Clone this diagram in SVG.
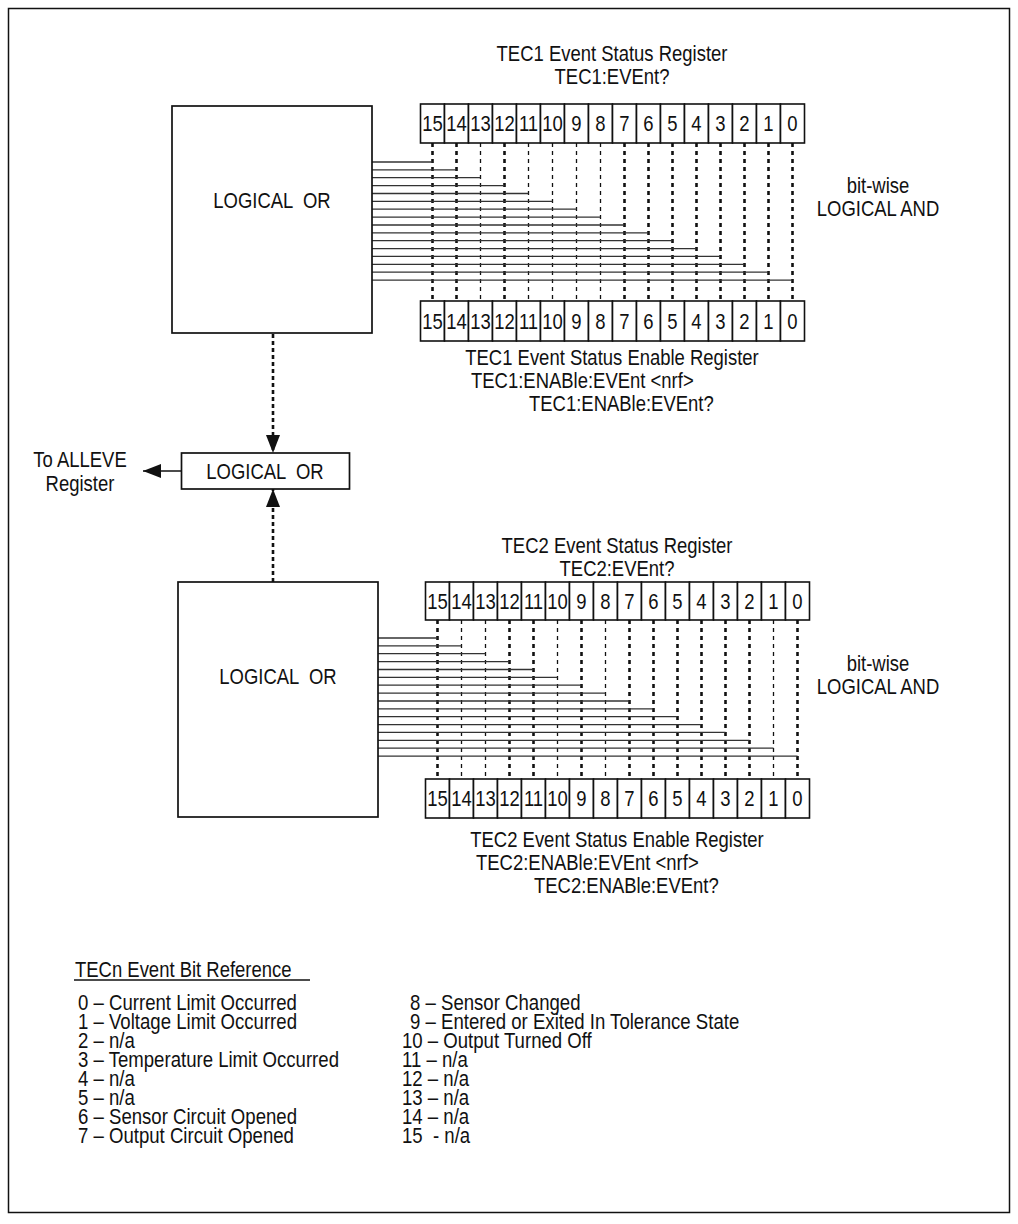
<svg xmlns="http://www.w3.org/2000/svg" width="1018" height="1224" viewBox="0 0 1018 1224">
<style>
text { font-family: "Liberation Sans", Arial, sans-serif; font-size: 22px; fill: #111; }
.c { text-anchor: middle; }
.pre { white-space: pre; }
.box { fill: #fff; stroke: #111; stroke-width: 1.7; }
.cell { fill: #fff; stroke: #111; stroke-width: 1.6; }
.dk { stroke: #111; stroke-width: 2.6; stroke-dasharray: 4 4; fill: none; }
.dt { stroke: #111; stroke-width: 1.3; stroke-dasharray: 4 4; fill: none; }
.h { stroke: #333; stroke-width: 1.3; fill: none; }
.ar { stroke: #111; stroke-width: 2.6; stroke-dasharray: 4 3; fill: none; }
.sl { stroke: #111; stroke-width: 1.5; fill: none; }
</style>
<defs>
<marker id="ah2" viewBox="0 0 18 14" refX="18" refY="7" markerWidth="18" markerHeight="14" markerUnits="userSpaceOnUse" orient="auto">
<path d="M0,0 L18,7 L0,14 Z" fill="#111"/>
</marker>
</defs>
<rect x="8.5" y="8.5" width="1001" height="1204" fill="#fff" stroke="#111" stroke-width="1.5"/>

<g id="connectors">
<line class="dk" x1="432.5" y1="143" x2="432.5" y2="301"/>
<line class="dk" x1="456.5" y1="143" x2="456.5" y2="301"/>
<line class="dt" x1="480.5" y1="143" x2="480.5" y2="301"/>
<line class="dk" x1="504.5" y1="143" x2="504.5" y2="301"/>
<line class="dt" x1="528.5" y1="143" x2="528.5" y2="301"/>
<line class="dt" x1="552.5" y1="143" x2="552.5" y2="301"/>
<line class="dt" x1="576.5" y1="143" x2="576.5" y2="301"/>
<line class="dt" x1="600.5" y1="143" x2="600.5" y2="301"/>
<line class="dk" x1="624.5" y1="143" x2="624.5" y2="301"/>
<line class="dk" x1="648.5" y1="143" x2="648.5" y2="301"/>
<line class="dk" x1="672.5" y1="143" x2="672.5" y2="301"/>
<line class="dk" x1="696.5" y1="143" x2="696.5" y2="301"/>
<line class="dk" x1="720.5" y1="143" x2="720.5" y2="301"/>
<line class="dk" x1="744.5" y1="143" x2="744.5" y2="301"/>
<line class="dk" x1="768.5" y1="143" x2="768.5" y2="301"/>
<line class="dk" x1="792.5" y1="143" x2="792.5" y2="301"/>
<line class="h" x1="372" y1="162" x2="432.5" y2="162"/>
<line class="h" x1="372" y1="169.9" x2="456.5" y2="169.9"/>
<line class="h" x1="372" y1="177.7" x2="480.5" y2="177.7"/>
<line class="h" x1="372" y1="185.6" x2="504.5" y2="185.6"/>
<line class="h" x1="372" y1="193.5" x2="528.5" y2="193.5"/>
<line class="h" x1="372" y1="201.4" x2="552.5" y2="201.4"/>
<line class="h" x1="372" y1="209.2" x2="576.5" y2="209.2"/>
<line class="h" x1="372" y1="217.1" x2="600.5" y2="217.1"/>
<line class="h" x1="372" y1="225" x2="624.5" y2="225"/>
<line class="h" x1="372" y1="232.8" x2="648.5" y2="232.8"/>
<line class="h" x1="372" y1="240.7" x2="672.5" y2="240.7"/>
<line class="h" x1="372" y1="248.6" x2="696.5" y2="248.6"/>
<line class="h" x1="372" y1="256.4" x2="720.5" y2="256.4"/>
<line class="h" x1="372" y1="264.3" x2="744.5" y2="264.3"/>
<line class="h" x1="372" y1="272.2" x2="768.5" y2="272.2"/>
<line class="h" x1="372" y1="280.1" x2="792.5" y2="280.1"/>
<line class="dk" x1="437.5" y1="620" x2="437.5" y2="779"/>
<line class="dt" x1="461.5" y1="620" x2="461.5" y2="779"/>
<line class="dt" x1="485.5" y1="620" x2="485.5" y2="779"/>
<line class="dk" x1="509.5" y1="620" x2="509.5" y2="779"/>
<line class="dk" x1="533.5" y1="620" x2="533.5" y2="779"/>
<line class="dt" x1="557.5" y1="620" x2="557.5" y2="779"/>
<line class="dk" x1="581.5" y1="620" x2="581.5" y2="779"/>
<line class="dt" x1="605.5" y1="620" x2="605.5" y2="779"/>
<line class="dk" x1="629.5" y1="620" x2="629.5" y2="779"/>
<line class="dk" x1="653.5" y1="620" x2="653.5" y2="779"/>
<line class="dk" x1="677.5" y1="620" x2="677.5" y2="779"/>
<line class="dk" x1="701.5" y1="620" x2="701.5" y2="779"/>
<line class="dk" x1="725.5" y1="620" x2="725.5" y2="779"/>
<line class="dk" x1="749.5" y1="620" x2="749.5" y2="779"/>
<line class="dt" x1="773.5" y1="620" x2="773.5" y2="779"/>
<line class="dk" x1="797.5" y1="620" x2="797.5" y2="779"/>
<line class="h" x1="378" y1="638" x2="437.5" y2="638"/>
<line class="h" x1="378" y1="645.9" x2="461.5" y2="645.9"/>
<line class="h" x1="378" y1="653.7" x2="485.5" y2="653.7"/>
<line class="h" x1="378" y1="661.6" x2="509.5" y2="661.6"/>
<line class="h" x1="378" y1="669.5" x2="533.5" y2="669.5"/>
<line class="h" x1="378" y1="677.4" x2="557.5" y2="677.4"/>
<line class="h" x1="378" y1="685.2" x2="581.5" y2="685.2"/>
<line class="h" x1="378" y1="693.1" x2="605.5" y2="693.1"/>
<line class="h" x1="378" y1="701" x2="629.5" y2="701"/>
<line class="h" x1="378" y1="708.8" x2="653.5" y2="708.8"/>
<line class="h" x1="378" y1="716.7" x2="677.5" y2="716.7"/>
<line class="h" x1="378" y1="724.6" x2="701.5" y2="724.6"/>
<line class="h" x1="378" y1="732.4" x2="725.5" y2="732.4"/>
<line class="h" x1="378" y1="740.3" x2="749.5" y2="740.3"/>
<line class="h" x1="378" y1="748.2" x2="773.5" y2="748.2"/>
<line class="h" x1="378" y1="756.1" x2="797.5" y2="756.1"/>
<line class="ar" x1="273" y1="334" x2="273" y2="453" marker-end="url(#ah2)"/>
<line class="ar" x1="273" y1="582" x2="273" y2="489" marker-end="url(#ah2)"/>
<line class="sl" x1="181.5" y1="471" x2="143" y2="471" marker-end="url(#ah2)"/>
</g>

<g id="tec1-or">
<rect class="box" x="172" y="106" width="200" height="227"/>
<text class="c pre" transform="translate(272 208) scale(0.84 1)">LOGICAL  OR</text>
</g>

<g id="tec1-status">
<text class="c" transform="translate(612 61) scale(0.84 1)">TEC1 Event Status Register</text>
<text class="c" transform="translate(612 84) scale(0.84 1)">TEC1:EVEnt?</text>
<rect class="cell" x="420.5" y="104" width="24" height="39"/><text class="c" transform="translate(432.5 131) scale(0.84 1)">15</text>
<rect class="cell" x="444.5" y="104" width="24" height="39"/><text class="c" transform="translate(456.5 131) scale(0.84 1)">14</text>
<rect class="cell" x="468.5" y="104" width="24" height="39"/><text class="c" transform="translate(480.5 131) scale(0.84 1)">13</text>
<rect class="cell" x="492.5" y="104" width="24" height="39"/><text class="c" transform="translate(504.5 131) scale(0.84 1)">12</text>
<rect class="cell" x="516.5" y="104" width="24" height="39"/><text class="c" transform="translate(528.5 131) scale(0.84 1)">11</text>
<rect class="cell" x="540.5" y="104" width="24" height="39"/><text class="c" transform="translate(552.5 131) scale(0.84 1)">10</text>
<rect class="cell" x="564.5" y="104" width="24" height="39"/><text class="c" transform="translate(576.5 131) scale(0.84 1)">9</text>
<rect class="cell" x="588.5" y="104" width="24" height="39"/><text class="c" transform="translate(600.5 131) scale(0.84 1)">8</text>
<rect class="cell" x="612.5" y="104" width="24" height="39"/><text class="c" transform="translate(624.5 131) scale(0.84 1)">7</text>
<rect class="cell" x="636.5" y="104" width="24" height="39"/><text class="c" transform="translate(648.5 131) scale(0.84 1)">6</text>
<rect class="cell" x="660.5" y="104" width="24" height="39"/><text class="c" transform="translate(672.5 131) scale(0.84 1)">5</text>
<rect class="cell" x="684.5" y="104" width="24" height="39"/><text class="c" transform="translate(696.5 131) scale(0.84 1)">4</text>
<rect class="cell" x="708.5" y="104" width="24" height="39"/><text class="c" transform="translate(720.5 131) scale(0.84 1)">3</text>
<rect class="cell" x="732.5" y="104" width="24" height="39"/><text class="c" transform="translate(744.5 131) scale(0.84 1)">2</text>
<rect class="cell" x="756.5" y="104" width="24" height="39"/><text class="c" transform="translate(768.5 131) scale(0.84 1)">1</text>
<rect class="cell" x="780.5" y="104" width="24" height="39"/><text class="c" transform="translate(792.5 131) scale(0.84 1)">0</text>
</g>

<g id="tec1-and">
<text class="c" transform="translate(878 193) scale(0.84 1)">bit-wise</text>
<text class="c" transform="translate(878 216) scale(0.84 1)">LOGICAL AND</text>
</g>

<g id="tec1-enable">
<rect class="cell" x="420.5" y="301" width="24" height="40"/><text class="c" transform="translate(432.5 329) scale(0.84 1)">15</text>
<rect class="cell" x="444.5" y="301" width="24" height="40"/><text class="c" transform="translate(456.5 329) scale(0.84 1)">14</text>
<rect class="cell" x="468.5" y="301" width="24" height="40"/><text class="c" transform="translate(480.5 329) scale(0.84 1)">13</text>
<rect class="cell" x="492.5" y="301" width="24" height="40"/><text class="c" transform="translate(504.5 329) scale(0.84 1)">12</text>
<rect class="cell" x="516.5" y="301" width="24" height="40"/><text class="c" transform="translate(528.5 329) scale(0.84 1)">11</text>
<rect class="cell" x="540.5" y="301" width="24" height="40"/><text class="c" transform="translate(552.5 329) scale(0.84 1)">10</text>
<rect class="cell" x="564.5" y="301" width="24" height="40"/><text class="c" transform="translate(576.5 329) scale(0.84 1)">9</text>
<rect class="cell" x="588.5" y="301" width="24" height="40"/><text class="c" transform="translate(600.5 329) scale(0.84 1)">8</text>
<rect class="cell" x="612.5" y="301" width="24" height="40"/><text class="c" transform="translate(624.5 329) scale(0.84 1)">7</text>
<rect class="cell" x="636.5" y="301" width="24" height="40"/><text class="c" transform="translate(648.5 329) scale(0.84 1)">6</text>
<rect class="cell" x="660.5" y="301" width="24" height="40"/><text class="c" transform="translate(672.5 329) scale(0.84 1)">5</text>
<rect class="cell" x="684.5" y="301" width="24" height="40"/><text class="c" transform="translate(696.5 329) scale(0.84 1)">4</text>
<rect class="cell" x="708.5" y="301" width="24" height="40"/><text class="c" transform="translate(720.5 329) scale(0.84 1)">3</text>
<rect class="cell" x="732.5" y="301" width="24" height="40"/><text class="c" transform="translate(744.5 329) scale(0.84 1)">2</text>
<rect class="cell" x="756.5" y="301" width="24" height="40"/><text class="c" transform="translate(768.5 329) scale(0.84 1)">1</text>
<rect class="cell" x="780.5" y="301" width="24" height="40"/><text class="c" transform="translate(792.5 329) scale(0.84 1)">0</text>
<text class="c" transform="translate(612 365) scale(0.84 1)">TEC1 Event Status Enable Register</text>
<text transform="translate(471 388) scale(0.84 1)">TEC1:ENABle:EVEnt &lt;nrf&gt;</text>
<text transform="translate(529 411) scale(0.84 1)">TEC1:ENABle:EVEnt?</text>
</g>

<g id="alleve-or">
<rect class="box" x="181.5" y="453" width="168" height="36"/>
<text class="c pre" transform="translate(265 479) scale(0.84 1)">LOGICAL  OR</text>
</g>

<g id="alleve-label">
<text class="c" transform="translate(80 467) scale(0.84 1)">To ALLEVE</text>
<text class="c" transform="translate(80 491) scale(0.84 1)">Register</text>
</g>

<g id="tec2-or">
<rect class="box" x="178" y="582" width="200" height="235"/>
<text class="c pre" transform="translate(278 684) scale(0.84 1)">LOGICAL  OR</text>
</g>

<g id="tec2-status">
<text class="c" transform="translate(617 553) scale(0.84 1)">TEC2 Event Status Register</text>
<text class="c" transform="translate(617 576) scale(0.84 1)">TEC2:EVEnt?</text>
<rect class="cell" x="425.5" y="582" width="24" height="38"/><text class="c" transform="translate(437.5 609) scale(0.84 1)">15</text>
<rect class="cell" x="449.5" y="582" width="24" height="38"/><text class="c" transform="translate(461.5 609) scale(0.84 1)">14</text>
<rect class="cell" x="473.5" y="582" width="24" height="38"/><text class="c" transform="translate(485.5 609) scale(0.84 1)">13</text>
<rect class="cell" x="497.5" y="582" width="24" height="38"/><text class="c" transform="translate(509.5 609) scale(0.84 1)">12</text>
<rect class="cell" x="521.5" y="582" width="24" height="38"/><text class="c" transform="translate(533.5 609) scale(0.84 1)">11</text>
<rect class="cell" x="545.5" y="582" width="24" height="38"/><text class="c" transform="translate(557.5 609) scale(0.84 1)">10</text>
<rect class="cell" x="569.5" y="582" width="24" height="38"/><text class="c" transform="translate(581.5 609) scale(0.84 1)">9</text>
<rect class="cell" x="593.5" y="582" width="24" height="38"/><text class="c" transform="translate(605.5 609) scale(0.84 1)">8</text>
<rect class="cell" x="617.5" y="582" width="24" height="38"/><text class="c" transform="translate(629.5 609) scale(0.84 1)">7</text>
<rect class="cell" x="641.5" y="582" width="24" height="38"/><text class="c" transform="translate(653.5 609) scale(0.84 1)">6</text>
<rect class="cell" x="665.5" y="582" width="24" height="38"/><text class="c" transform="translate(677.5 609) scale(0.84 1)">5</text>
<rect class="cell" x="689.5" y="582" width="24" height="38"/><text class="c" transform="translate(701.5 609) scale(0.84 1)">4</text>
<rect class="cell" x="713.5" y="582" width="24" height="38"/><text class="c" transform="translate(725.5 609) scale(0.84 1)">3</text>
<rect class="cell" x="737.5" y="582" width="24" height="38"/><text class="c" transform="translate(749.5 609) scale(0.84 1)">2</text>
<rect class="cell" x="761.5" y="582" width="24" height="38"/><text class="c" transform="translate(773.5 609) scale(0.84 1)">1</text>
<rect class="cell" x="785.5" y="582" width="24" height="38"/><text class="c" transform="translate(797.5 609) scale(0.84 1)">0</text>
</g>

<g id="tec2-and">
<text class="c" transform="translate(878 671) scale(0.84 1)">bit-wise</text>
<text class="c" transform="translate(878 694) scale(0.84 1)">LOGICAL AND</text>
</g>

<g id="tec2-enable">
<rect class="cell" x="425.5" y="779" width="24" height="39"/><text class="c" transform="translate(437.5 806) scale(0.84 1)">15</text>
<rect class="cell" x="449.5" y="779" width="24" height="39"/><text class="c" transform="translate(461.5 806) scale(0.84 1)">14</text>
<rect class="cell" x="473.5" y="779" width="24" height="39"/><text class="c" transform="translate(485.5 806) scale(0.84 1)">13</text>
<rect class="cell" x="497.5" y="779" width="24" height="39"/><text class="c" transform="translate(509.5 806) scale(0.84 1)">12</text>
<rect class="cell" x="521.5" y="779" width="24" height="39"/><text class="c" transform="translate(533.5 806) scale(0.84 1)">11</text>
<rect class="cell" x="545.5" y="779" width="24" height="39"/><text class="c" transform="translate(557.5 806) scale(0.84 1)">10</text>
<rect class="cell" x="569.5" y="779" width="24" height="39"/><text class="c" transform="translate(581.5 806) scale(0.84 1)">9</text>
<rect class="cell" x="593.5" y="779" width="24" height="39"/><text class="c" transform="translate(605.5 806) scale(0.84 1)">8</text>
<rect class="cell" x="617.5" y="779" width="24" height="39"/><text class="c" transform="translate(629.5 806) scale(0.84 1)">7</text>
<rect class="cell" x="641.5" y="779" width="24" height="39"/><text class="c" transform="translate(653.5 806) scale(0.84 1)">6</text>
<rect class="cell" x="665.5" y="779" width="24" height="39"/><text class="c" transform="translate(677.5 806) scale(0.84 1)">5</text>
<rect class="cell" x="689.5" y="779" width="24" height="39"/><text class="c" transform="translate(701.5 806) scale(0.84 1)">4</text>
<rect class="cell" x="713.5" y="779" width="24" height="39"/><text class="c" transform="translate(725.5 806) scale(0.84 1)">3</text>
<rect class="cell" x="737.5" y="779" width="24" height="39"/><text class="c" transform="translate(749.5 806) scale(0.84 1)">2</text>
<rect class="cell" x="761.5" y="779" width="24" height="39"/><text class="c" transform="translate(773.5 806) scale(0.84 1)">1</text>
<rect class="cell" x="785.5" y="779" width="24" height="39"/><text class="c" transform="translate(797.5 806) scale(0.84 1)">0</text>
<text class="c" transform="translate(617 847) scale(0.84 1)">TEC2 Event Status Enable Register</text>
<text transform="translate(476 870) scale(0.84 1)">TEC2:ENABle:EVEnt &lt;nrf&gt;</text>
<text transform="translate(534 893) scale(0.84 1)">TEC2:ENABle:EVEnt?</text>
</g>

<g id="legend">
<text transform="translate(75 977) scale(0.84 1)">TECn Event Bit Reference</text>
<line x1="74" y1="980" x2="310" y2="980" stroke="#111" stroke-width="1.6"/>
<text class="pre" transform="translate(78 1010) scale(0.845 1)"><tspan x="0" y="0">0 – Current Limit Occurred</tspan><tspan x="0" y="19">1 – Voltage Limit Occurred</tspan><tspan x="0" y="38">2 – n/a</tspan><tspan x="0" y="57">3 – Temperature Limit Occurred</tspan><tspan x="0" y="76">4 – n/a</tspan><tspan x="0" y="95">5 – n/a</tspan><tspan x="0" y="114">6 – Sensor Circuit Opened</tspan><tspan x="0" y="133">7 – Output Circuit Opened</tspan></text>
<text class="pre" transform="translate(402 1010) scale(0.845 1)"><tspan x="9.5" y="0">8 – Sensor Changed</tspan><tspan x="9.5" y="19">9 – Entered or Exited In Tolerance State</tspan><tspan x="0" y="38">10 – Output Turned Off</tspan><tspan x="0" y="57">11 – n/a</tspan><tspan x="0" y="76">12 – n/a</tspan><tspan x="0" y="95">13 – n/a</tspan><tspan x="0" y="114">14 – n/a</tspan><tspan x="0" y="133">15  - n/a</tspan></text>
</g>
</svg>
